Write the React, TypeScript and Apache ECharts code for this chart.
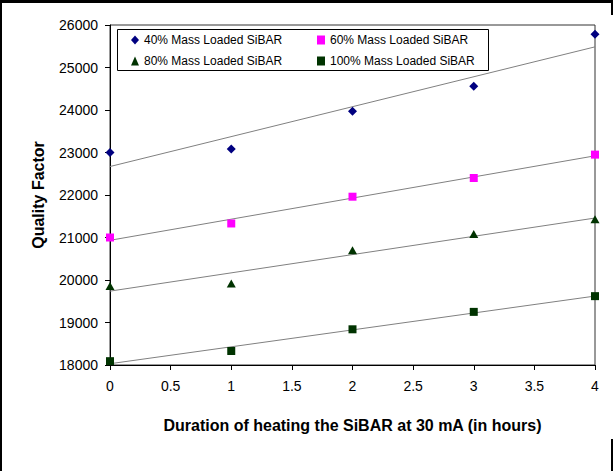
import React, { useEffect, useRef } from "react";
import * as echarts from "echarts";

const hours = [0, 1, 2, 3, 4];
const names = [
  "40% Mass Loaded SiBAR",
  "60% Mass Loaded SiBAR",
  "80% Mass Loaded SiBAR",
  "100% Mass Loaded SiBAR",
];
const q40 = [23000, 23080, 23970, 24560, 25780];
const q60 = [21000, 21330, 21960, 22400, 22950];
const q80 = [19860, 19920, 20700, 21080, 21430];
const q100 = [18090, 18330, 18840, 19250, 19620];
const colors = ["#000080", "#FF00FF", "#003300", "#003300"];
const symbols = ["diamond", "rect", "triangle", "rect"];
const symbolSizes: any[] = [9, 8, [9, 8], 8];

const FONT = 'Arial, "Liberation Sans", sans-serif';

function fit(xs: number[], ys: number[]) {
  const n = xs.length;
  const mx = xs.reduce((a, b) => a + b, 0) / n;
  const my = ys.reduce((a, b) => a + b, 0) / n;
  let sxy = 0, sxx = 0;
  for (let i = 0; i < n; i++) {
    sxy += (xs[i] - mx) * (ys[i] - my);
    sxx += (xs[i] - mx) * (xs[i] - mx);
  }
  const b = sxy / sxx;
  const a = my - b * mx;
  const x0 = xs[0], x1 = xs[n - 1];
  return [[x0, a + b * x0], [x1, a + b * x1]];
}

export default function App() {
  const ref = useRef<HTMLDivElement>(null);
  useEffect(() => {
    if (!ref.current) return;
    const chart = echarts.init(ref.current, null, { renderer: "svg" });
    const all = [q40, q60, q80, q100];
    const scatter = all.map((ys, i) => ({
      name: names[i],
      type: "scatter",
      symbol: symbols[i],
      symbolSize: symbolSizes[i],
      itemStyle: { color: colors[i], opacity: 1 },
      data: hours.map((h, j) => [h, ys[j]]),
      z: 3,
    }));
    const trends = all.map((ys) => ({
      type: "line",
      data: fit(hours, ys),
      symbol: "none",
      silent: true,
      lineStyle: { color: "#808080", width: 1 },
      z: 2,
    }));
    chart.setOption({
      animation: false,
      backgroundColor: "#fff",
      textStyle: { fontFamily: FONT },
      grid: {
        left: 110,
        top: 25,
        width: 485,
        height: 340,
        show: true,
        borderColor: "#333",
        borderWidth: 1,
        backgroundColor: "transparent",
      },
      xAxis: {
        type: "value",
        min: 0,
        max: 4,
        interval: 0.5,
        axisLine: { lineStyle: { color: "#000", width: 1 } },
        axisTick: { show: true, length: 5, lineStyle: { color: "#000" } },
        axisLabel: { color: "#000", fontSize: 14, margin: 14, fontFamily: FONT },
        splitLine: { show: false },
        name: "Duration of heating the SiBAR at 30 mA (in hours)",
        nameLocation: "middle",
        nameGap: 52,
        nameTextStyle: { color: "#000", fontSize: 16, fontWeight: "bold", fontFamily: FONT },
      },
      yAxis: {
        type: "value",
        min: 18000,
        max: 26000,
        interval: 1000,
        axisLine: { show: true, lineStyle: { color: "#000", width: 1 } },
        axisTick: { show: true, length: 5, lineStyle: { color: "#000" } },
        axisLabel: {
          color: "#000",
          fontSize: 14,
          margin: 12,
          fontFamily: FONT,
          formatter: (v: number) => String(v),
        },
        splitLine: { show: false },
        name: "Quality Factor",
        nameLocation: "middle",
        nameGap: 64,
        nameTextStyle: { color: "#000", fontSize: 16, fontWeight: "bold", fontFamily: FONT },
      },
      legend: [
        {
          data: [names[0], names[2]],
          orient: "vertical",
          left: 131,
          top: 34,
          padding: 0,
          itemWidth: 8,
          itemHeight: 9,
          itemGap: 9,
          itemStyle: { opacity: 1 },
          textStyle: { color: "#000", fontSize: 12, lineHeight: 12, fontFamily: FONT },
        },
        {
          data: [names[1], names[3]],
          orient: "vertical",
          left: 317,
          top: 34,
          padding: 0,
          itemWidth: 8,
          itemHeight: 9,
          itemGap: 9,
          itemStyle: { opacity: 1 },
          textStyle: { color: "#000", fontSize: 12, lineHeight: 12, fontFamily: FONT },
        },
      ],
      graphic: [
        {
          type: "rect",
          shape: { x: 117.5, y: 29.5, width: 371, height: 41 },
          style: { fill: "#fff", stroke: "#000", lineWidth: 1 },
          z: 1,
        },
        { type: "rect", shape: { x: 0, y: 0, width: 613, height: 3 }, style: { fill: "#000" }, z: 10 },
        { type: "rect", shape: { x: 0, y: 0, width: 2, height: 471 }, style: { fill: "#000" }, z: 10 },
        { type: "rect", shape: { x: 611, y: 0, width: 2, height: 15 }, style: { fill: "#000" }, z: 10 },
        { type: "rect", shape: { x: 611, y: 439, width: 2, height: 32 }, style: { fill: "#000" }, z: 10 },
      ],
      series: [...trends, ...scatter],
    });
    return () => chart.dispose();
  }, []);
  return (
    <div
      ref={ref}
      style={{ position: "fixed", left: 0, top: 0, width: 613, height: 471 }}
    />
  );
}
